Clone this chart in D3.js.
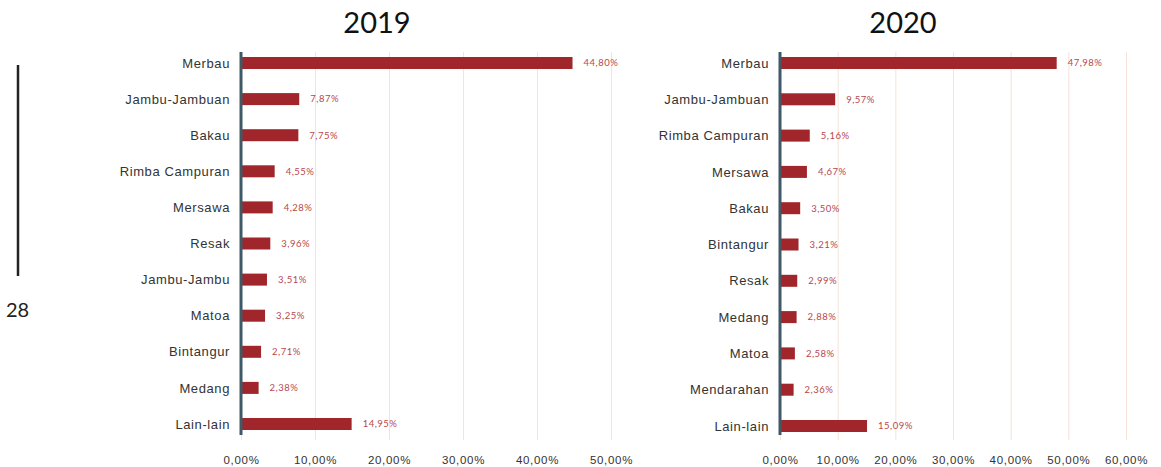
<!DOCTYPE html>
<html>
<head>
    <meta charset="utf-8">
    <style>
        body {
            margin: 0;
            background: #fff;
            font-family: Lato, 'Open Sans', sans-serif;
        }

        svg {
            display: block;
        }

        .title {
            font-size: 29px;
            fill: #111;
        }

        .cat text {
            font-size: 13px;
            fill: #333;
            letter-spacing: 0.6px;
        }

        .x .tick text {
            font-size: 11.5px;
            fill: #333;
            letter-spacing: 0.7px;
        }

        .x .domain,
        .cat .domain,
        .cat .tick line {
            display: none;
        }

        .x .tick line {
            stroke: #f6e2d8;
        }

        .value {
            font-size: 9.5px;
            fill: #b8474b;
            letter-spacing: 0.5px;
        }
    </style>
</head>
<body>
<svg width="1161" height="467"></svg>

<script src="https://d3js.org/d3.v7.min.js"></script>
<script>
    // data
    let cats2019 = ["Merbau", "Jambu-Jambuan", "Bakau", "Rimba Campuran", "Mersawa", "Resak",
        "Jambu-Jambu", "Matoa", "Bintangur", "Medang", "Lain-lain"]
    let vals2019 = [44.80, 7.87, 7.75, 4.55, 4.28, 3.96, 3.51, 3.25, 2.71, 2.38, 14.95]

    let cats2020 = ["Merbau", "Jambu-Jambuan", "Rimba Campuran", "Mersawa", "Bakau", "Bintangur",
        "Resak", "Medang", "Matoa", "Mendarahan", "Lain-lain"]
    let vals2020 = [47.98, 9.57, 5.16, 4.67, 3.50, 3.21, 2.99, 2.88, 2.58, 2.36, 15.09]

    let ticks2019 = [0, 10, 20, 30, 40, 50]
    let ticks2020 = [0, 10, 20, 30, 40, 50, 60]

    let svg = d3.select("svg")

    let fmt = v => d3.format(".2f")(v).replace(".", ",") + "%"

    function drawPanel(opts) {
        let data = opts.cats.map((c, i) => ({ cat: c, value: opts.vals[i] }))

        let x = d3.scaleLinear()
            .domain([0, opts.max])
            .range([opts.x0, opts.x1])

        let y = d3.scalePoint()
            .domain(opts.cats)
            .range([opts.y0, opts.y1])

        let g = svg.append("g")

        // title
        g.append("text")
            .attr("class", "title")
            .attr("x", opts.titleX)
            .attr("y", 33)
            .attr("text-anchor", "middle")
            .text(opts.title)

        // vertical grid + tick labels
        g.append("g")
            .attr("class", "x axis")
            .attr("transform", "translate(0,440)")
            .call(d3.axisBottom(x)
                .tickValues(opts.ticks)
                .tickSize(-388)
                .tickPadding(16)
                .tickFormat(fmt))

        // bars
        g.append("g")
            .selectAll("rect")
            .data(data)
            .join("rect")
            .attr("x", x(0))
            .attr("y", d => y(d.cat) - 6)
            .attr("width", d => x(d.value) - x(0))
            .attr("height", 12)
            .attr("fill", "#a0262b")

        // value labels
        g.append("g")
            .selectAll("text")
            .data(data)
            .join("text")
            .attr("class", "value")
            .attr("x", d => x(d.value) + 11)
            .attr("y", d => y(d.cat))
            .attr("dy", "0.35em")
            .text(d => fmt(d.value))

        // category labels
        g.append("g")
            .attr("class", "cat")
            .attr("transform", `translate(${x(0) - 11},0)`)
            .call(d3.axisLeft(y).tickSize(0).tickPadding(0))

        // dark baseline
        g.append("line")
            .attr("x1", x(0))
            .attr("x2", x(0))
            .attr("y1", 52)
            .attr("y2", 435)
            .attr("stroke", "#3f5a66")
            .attr("stroke-width", 3)
    }

    drawPanel({
        title: "2019", titleX: 377,
        cats: cats2019, vals: vals2019, ticks: ticks2019,
        max: 50, x0: 241, x1: 611, y0: 63, y1: 424
    })

    drawPanel({
        title: "2020", titleX: 903,
        cats: cats2020, vals: vals2020, ticks: ticks2020,
        max: 60, x0: 780, x1: 1126, y0: 63, y1: 426
    })

    // page marker on the left
    svg.append("line")
        .attr("x1", 18).attr("x2", 18)
        .attr("y1", 65).attr("y2", 276)
        .attr("stroke", "#222")
        .attr("stroke-width", 2.5)

    svg.append("text")
        .attr("x", 6)
        .attr("y", 317)
        .style("font-size", "20px")
        .style("fill", "#222")
        .text("28")
</script>
</body>
</html>
